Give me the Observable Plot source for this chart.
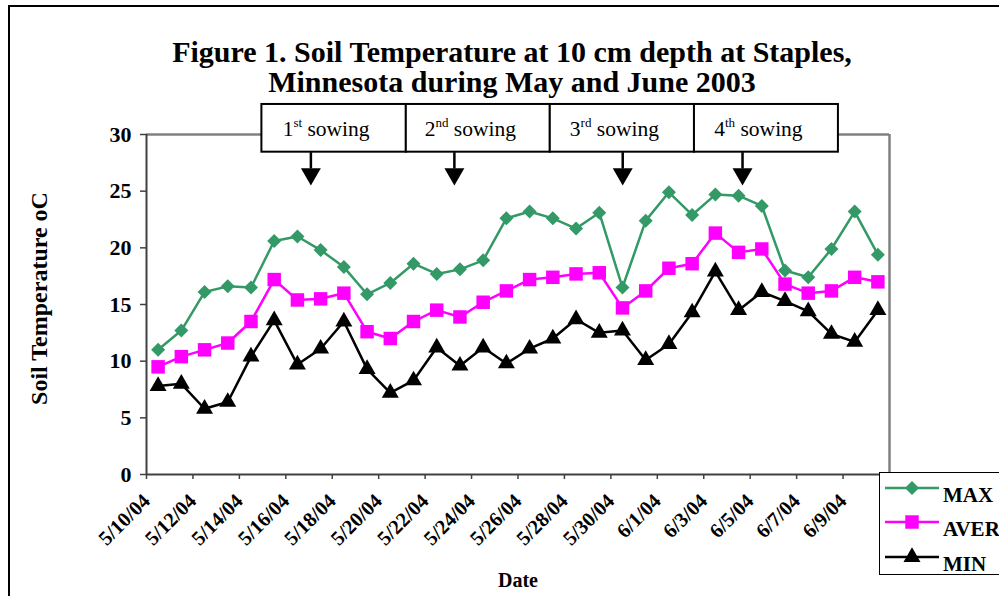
<!DOCTYPE html>
<html><head><meta charset="utf-8">
<script src="https://cdn.jsdelivr.net/npm/d3@7"></script>
<script src="https://cdn.jsdelivr.net/npm/@observablehq/plot@0.6"></script>
<style>
html,body{margin:0;padding:0;background:#fff;overflow:hidden;width:999px;height:596px;}
#wrap{position:relative;width:999px;height:596px;overflow:hidden;font-family:"Liberation Serif","Times New Roman",serif;}
#outer{position:absolute;left:8px;top:5px;width:1200px;height:800px;border:2px solid #000;box-sizing:border-box;}
#chart{position:absolute;left:0;top:0;}
#legend{position:absolute;left:879px;top:472px;width:140px;height:103px;border:1.5px solid #000;background:#fff;box-sizing:border-box;}
</style></head><body>
<div id="wrap"><div id="outer"></div><div id="chart"></div><div id="legend"></div></div>
<script>
// ---- data ----
const dates = ["5/10/04","5/11/04","5/12/04","5/13/04","5/14/04","5/15/04","5/16/04","5/17/04",
  "5/18/04","5/19/04","5/20/04","5/21/04","5/22/04","5/23/04","5/24/04","5/25/04",
  "5/26/04","5/27/04","5/28/04","5/29/04","5/30/04","5/31/04","6/1/04","6/2/04",
  "6/3/04","6/4/04","6/5/04","6/6/04","6/7/04","6/8/04","6/9/04","6/10/04"];
const maxT  = [11.0,12.7,16.1,16.6,16.5,20.6,21.0,19.8,18.3,15.9,16.9,18.6,17.7,18.1,18.9,22.6,
               23.2,22.6,21.7,23.1,16.5,22.4,24.9,22.9,24.7,24.6,23.7,18.0,17.4,19.9,23.2,19.4];
const averT = [9.5,10.4,11.0,11.6,13.5,17.2,15.4,15.5,16.0,12.6,12.0,13.5,14.5,13.9,15.2,16.2,
               17.2,17.4,17.7,17.8,14.7,16.2,18.2,18.6,21.3,19.6,19.9,16.8,16.0,16.2,17.4,17.0];
const minT  = [7.8,8.0,5.8,6.4,10.4,13.6,9.7,11.1,13.5,9.3,7.2,8.3,11.2,9.6,11.2,9.8,
               11.1,12.0,13.7,12.5,12.7,10.1,11.5,14.3,17.9,14.5,16.1,15.3,14.4,12.4,11.7,14.5];
const xTickLabels = ["5/10/04","5/12/04","5/14/04","5/16/04","5/18/04","5/20/04","5/22/04","5/24/04",
                     "5/26/04","5/28/04","5/30/04","6/1/04","6/3/04","6/5/04","6/7/04","6/9/04"];
const yTicks = [0,5,10,15,20,25,30];
const seriesNames = ["MAX","AVER","MIN"];
const sowingLabels = ["1st sowing","2nd sowing","3rd sowing","4th sowing"];
const titleLines = ["Figure 1. Soil Temperature at 10 cm depth at Staples,","Minnesota during May and June 2003"];

// ---- layout / style ----
const FONT = "Liberation Serif, Times New Roman, serif";
const colors = {MAX:"#339966", AVER:"#ff00ff", MIN:"#000000"};
const symbols = {MAX:"diamond2", AVER:"square", MIN:"triangle"};
const radii = {MAX:6.3, AVER:7.6, MIN:6.3};
// annotation geometry in data units
const boxEdges = [4.97, 11.19, 17.39, 23.6, 29.8];
const boxTop = 32.65, boxBottom = 28.44;
const arrowX = [7.08, 13.26, 20.51, 25.67];
const arrowShaftEnd = 27.0, arrowHeadY = 26.52;

const rows = dates.map((d, i) => ({i, date: d, MAX: maxT[i], AVER: averT[i], MIN: minT[i]}));
const boxes = sowingLabels.map((s, k) => ({label: s, x1: boxEdges[k], x2: boxEdges[k+1], x: arrowX[k]}));

const seriesMarks = [];
for (const s of seriesNames) {
  seriesMarks.push(Plot.line(rows, {x: d => d.i + 0.5, y: s, stroke: colors[s], strokeWidth: 2.5}));
}
for (const s of seriesNames) {
  seriesMarks.push(Plot.dot(rows, {x: d => d.i + 0.5, y: s, symbol: symbols[s], r: radii[s], fill: colors[s], stroke: "none"}));
}

const chart = Plot.plot({
  width: 999, height: 596,
  marginLeft: 146, marginRight: 110, marginTop: 134, marginBottom: 122,
  style: {fontFamily: FONT, background: "transparent", color: "#000", overflow: "visible"},
  x: {domain: [0, 32]},
  y: {domain: [0, 30]},
  marks: [
    Plot.text(titleLines.slice(0,1), {frameAnchor: "top", lineAnchor: "middle", dy: -82.6, dx: -6, fontSize: 30, fontWeight: "bold", fill: "#000"}),
    Plot.text(titleLines.slice(1,2), {frameAnchor: "top", lineAnchor: "middle", dy: -51.9, dx: -6, fontSize: 30, fontWeight: "bold", fill: "#000"}),
    Plot.ruleY([30], {stroke: "#808080", strokeWidth: 2.5}),
    Plot.ruleX([32], {stroke: "#808080", strokeWidth: 2.5}),
    Plot.ruleX([0], {stroke: "#404040", strokeWidth: 2}),
    Plot.ruleY([0], {stroke: "#404040", strokeWidth: 2}),
    Plot.axisY(yTicks, {tickSize: 6, tickPadding: 9, fontSize: 22, fontWeight: "bold", label: null, stroke: "#404040", fill: "#000", strokeWidth: 1.5}),
    Plot.axisX(d3.range(0, 32, 2), {tickFormat: d => xTickLabels[d / 2], tickRotate: -45, tickSize: 5, tickPadding: 18,
      fontSize: 20.5, fontWeight: "bold", label: null, stroke: "#404040", fill: "#000", strokeWidth: 1.5}),
    Plot.text(["Soil Temperature oC"], {frameAnchor: "left", textAnchor: "middle", lineAnchor: "middle", dx: -107, dy: -6, rotate: -90, fontSize: 24, fontWeight: "bold", fill: "#000"}),
    Plot.text(["Date"], {frameAnchor: "bottom", lineAnchor: "middle", dy: 106, dx: 0, fontSize: 20, fontWeight: "bold", fill: "#000"}),
    ...seriesMarks,
    Plot.rect(boxes, {x1: "x1", x2: "x2", y1: boxBottom, y2: boxTop, fill: "#fff", stroke: "#000", strokeWidth: 2}),
    Plot.text(boxes, {x: d => (d.x1 + d.x2) / 2, y: (boxTop + boxBottom) / 2, text: "label", dx: -8, dy: 1, fontSize: 21.5, fill: "#000"}),
    Plot.link(boxes, {x1: "x", x2: "x", y1: boxBottom, y2: arrowShaftEnd, stroke: "#000", strokeWidth: 2.5}),
    Plot.dot(boxes, {x: "x", y: arrowHeadY, symbol: "triangle", rotate: 180, r: 7.4, fill: "#000", stroke: "none"})
  ]
});
document.getElementById("chart").appendChild(chart);

// superscripts for ordinal suffixes
d3.select(chart).selectAll("text").each(function () {
  const t = this.textContent;
  const m = t.match(/^(\d)(st|nd|rd|th)( sowing)$/);
  if (m) {
    this.textContent = "";
    const s = d3.select(this);
    s.append("tspan").text(m[1]);
    s.append("tspan").attr("font-size", 13).attr("dy", -9).text(m[2]);
    s.append("tspan").attr("dy", 9).text(m[3]);
  }
});

// legend
const lg = d3.select("#legend").append("svg").attr("width", 140).attr("height", 103)
  .style("position", "absolute").style("left", "-1.5px").style("top", "-1.5px").style("overflow", "visible");
const symMap = {diamond2: d3.symbolDiamond2, square: d3.symbolSquare, triangle: d3.symbolTriangle};
const legendRowY = [16, 50, 85];
seriesNames.forEach((s, k) => {
  const y = legendRowY[k];
  lg.append("line").attr("x1", 6).attr("x2", 60).attr("y1", y).attr("y2", y).attr("stroke", colors[s]).attr("stroke-width", 2.5);
  lg.append("path").attr("transform", `translate(33,${y})`)
    .attr("d", d3.symbol(symMap[symbols[s]], radii[s] * radii[s] * Math.PI)())
    .attr("fill", colors[s]);
  lg.append("text").attr("x", 64).attr("y", y + 14).attr("font-family", FONT).attr("font-size", 21)
    .attr("font-weight", "bold").attr("fill", "#000").text(s);
});
</script>
</body></html>
